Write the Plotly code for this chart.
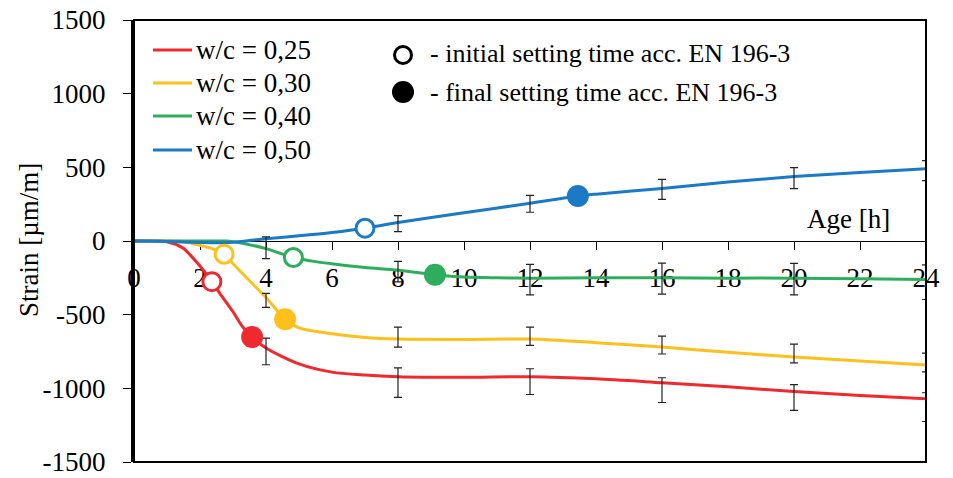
import plotly.graph_objects as go

# ---------------- data ----------------
series_names = ["w/c = 0,25", "w/c = 0,30", "w/c = 0,40", "w/c = 0,50"]
series_colors = ["#EE2A2E", "#FFC01E", "#2EAE5C", "#1B79C6"]

# curve points (age [h], strain [µm/m])
red_x = [0, 1, 1.5, 1.7, 2, 2.36, 2.6, 3, 3.3, 3.58, 4, 5, 6, 7, 8, 10, 12, 14, 16, 18, 20, 22, 24]
red_y = [0, -5, -50, -94, -170, -276, -355, -480, -585, -652, -726, -834, -890, -910, -921, -925, -921, -935, -962, -990, -1022, -1048, -1070]

yel_x = [0, 1, 1.5, 2, 2.4, 2.73, 3, 3.5, 4, 4.58, 5, 6, 7, 8, 10, 12, 14, 16, 18, 20, 22, 24]
yel_y = [0, 0, -5, -30, -55, -90, -155, -270, -383, -531, -590, -630, -655, -666, -668, -665, -690, -720, -755, -787, -815, -841]

grn_x = [0, 1, 2, 2.8, 3, 3.5, 4, 4.83, 5.5, 6, 7, 8, 9.12, 10, 11, 12, 14, 16, 18, 20, 22, 24]
grn_y = [0, 0, 0, 0, -5, -25, -52, -112, -140, -155, -180, -198, -229, -245, -250, -252, -250, -250, -252, -252, -256, -262]

blu_x = [0, 1, 2, 2.5, 3, 3.5, 4, 5, 6, 7, 8, 10, 12, 13.45, 14, 16, 18, 20, 22, 24]
blu_y = [0, -3, -10, -12, -8, 3, 15, 35, 58, 87, 125, 192, 256, 305, 318, 357, 400, 437, 465, 491]

# error bars
red_err_x = [4, 8, 12, 16, 20, 24]
red_err_y = [-726, -921, -921, -962, -1022, -1070]
red_err_plus = [67, 60, 54, 34, 47, 40]
red_err_minus = [114, 141, 121, 134, 128, 155]

yel_err_x = [4, 8, 12, 16, 20, 24]
yel_err_y = [-383, -666, -665, -720, -787, -841]
yel_err_plus = [27, 81, 81, 74, 87, 80]
yel_err_minus = [67, 54, 44, 47, 40, 47]

grn_err_x = [4, 8, 12, 16, 20, 24]
grn_err_y = [-52, -198, -252, -250, -252, -262]
grn_err_plus = [80, 60, 94, 100, 100, 100]
grn_err_minus = [67, 80, 114, 110, 114, 135]

blu_err_x = [8, 12, 16, 20, 24]
blu_err_y = [125, 256, 357, 437, 491]
blu_err_plus = [47, 54, 61, 61, 54]
blu_err_minus = [61, 61, 74, 81, 81]

# setting times (initial, final)
init_x = [2.36, 2.73, 4.83, 7.0]
init_y = [-276, -90, -112, 87]
final_x = [3.58, 4.58, 9.12, 13.45]
final_y = [-652, -531, -229, 305]

x_ticks = list(range(0, 25, 2))
y_ticks = [-1500, -1000, -500, 0, 500, 1000, 1500]

FONT = "Liberation Serif"
FS = 27
FS2 = 26

curves = [(red_x, red_y), (yel_x, yel_y), (grn_x, grn_y), (blu_x, blu_y)]
errs = [
    (red_err_x, red_err_y, red_err_plus, red_err_minus),
    (yel_err_x, yel_err_y, yel_err_plus, yel_err_minus),
    (grn_err_x, grn_err_y, grn_err_plus, grn_err_minus),
    (blu_err_x, blu_err_y, blu_err_plus, blu_err_minus),
]

fig = go.Figure()

for (cx, cy), name, col in zip(curves, series_names, series_colors):
    fig.add_trace(go.Scatter(x=cx, y=cy, mode="lines", name=name,
                             line=dict(color=col, width=3, shape="spline", smoothing=0.8),
                             showlegend=False, hoverinfo="skip"))

for (ex, ey, ep, em), name in zip(errs, series_names):
    fig.add_trace(go.Scatter(x=ex, y=ey, mode="markers", name=name + " error",
                             marker=dict(size=1, color="rgba(0,0,0,0)"),
                             error_y=dict(type="data", symmetric=False, array=ep, arrayminus=em,
                                          color="#222222", thickness=1.2, width=4),
                             showlegend=False, hoverinfo="skip"))

for i, col in enumerate(series_colors):
    fig.add_trace(go.Scatter(x=[init_x[i]], y=[init_y[i]], mode="markers",
                             marker=dict(symbol="circle", size=18, color="white",
                                         line=dict(color=col, width=3)),
                             showlegend=False, hoverinfo="skip"))
    fig.add_trace(go.Scatter(x=[final_x[i]], y=[final_y[i]], mode="markers",
                             marker=dict(symbol="circle", size=22, color=col,
                                         line=dict(width=0)),
                             showlegend=False, hoverinfo="skip"))

# ---------------- layout ----------------
L, R, T, B = 134, 27, 20, 16
W, H = 953, 478
pw, ph = W - L - R, H - T - B

def px2paper_x(px):
    return (px - L) / pw

def px2paper_y(py):
    return (H - B - py) / ph

shapes = [dict(type="rect", xref="paper", yref="paper", x0=0, x1=1, y0=0, y1=1,
               line=dict(color="black", width=2), layer="above")]
annotations = []

# custom legend: line samples
leg_y = [50, 83, 116, 150]
for name, col, yy in zip(series_names, series_colors, leg_y):
    shapes.append(dict(type="line", xref="paper", yref="paper",
                       x0=px2paper_x(153), x1=px2paper_x(192),
                       y0=px2paper_y(yy), y1=px2paper_y(yy),
                       line=dict(color=col, width=3)))
    annotations.append(dict(xref="paper", yref="paper", x=px2paper_x(194), y=px2paper_y(yy),
                            xanchor="left", yanchor="middle", showarrow=False, text=name,
                            font=dict(family=FONT, size=FS, color="black")))

# marker legend
shapes.append(dict(type="circle", xref="paper", yref="paper", xsizemode="pixel", ysizemode="pixel",
                   xanchor=px2paper_x(403), yanchor=px2paper_y(55), x0=-8.5, x1=8.5, y0=-8.5, y1=8.5,
                   line=dict(color="black", width=3), fillcolor="white"))
shapes.append(dict(type="circle", xref="paper", yref="paper", xsizemode="pixel", ysizemode="pixel",
                   xanchor=px2paper_x(403), yanchor=px2paper_y(92), x0=-11, x1=11, y0=-11, y1=11,
                   line=dict(color="black", width=0), fillcolor="black"))
annotations.append(dict(xref="paper", yref="paper", x=px2paper_x(428), y=px2paper_y(54),
                        xanchor="left", yanchor="middle", showarrow=False,
                        text="- initial setting time acc. EN 196-3",
                        font=dict(family=FONT, size=FS2, color="black")))
annotations.append(dict(xref="paper", yref="paper", x=px2paper_x(428), y=px2paper_y(93),
                        xanchor="left", yanchor="middle", showarrow=False,
                        text="- final setting time acc. EN 196-3",
                        font=dict(family=FONT, size=FS2, color="black")))
# x-axis title near the axis
annotations.append(dict(xref="paper", yref="paper", x=px2paper_x(848), y=px2paper_y(219),
                        xanchor="center", yanchor="middle", showarrow=False, text="Age [h]",
                        font=dict(family=FONT, size=FS, color="black")))
# y-axis title
annotations.append(dict(xref="paper", yref="paper", x=px2paper_x(29), y=px2paper_y(240),
                        xanchor="center", yanchor="middle", showarrow=False, textangle=-90,
                        text="Strain [µm/m]",
                        font=dict(family=FONT, size=FS, color="black")))

fig.update_layout(
    width=W, height=H,
    margin=dict(l=L, r=R, t=T, b=B, autoexpand=False),
    paper_bgcolor="white", plot_bgcolor="white",
    font=dict(family=FONT, size=FS, color="black"),
    showlegend=False,
    shapes=shapes, annotations=annotations,
    xaxis=dict(range=[0, 24], tickvals=x_ticks, ticktext=[str(v) for v in x_ticks],
               anchor="free", position=0.5, side="bottom", automargin=False,
               showline=True, linecolor="black", linewidth=1,
               ticks="outside", ticklen=8, tickcolor="black", tickwidth=1,
               ticklabelstandoff=5, ticklabeloverflow="allow",
               showgrid=False, zeroline=False, layer="below traces",
               tickfont=dict(family=FONT, size=FS, color="black")),
    yaxis=dict(range=[-1500, 1500], tickvals=y_ticks, ticktext=[str(v) for v in y_ticks],
               domain=[0, 1], automargin=False,
               showline=True, linecolor="black", linewidth=3,
               ticks="outside", ticklen=8, tickcolor="black", tickwidth=1,
               ticklabelstandoff=12, ticklabeloverflow="allow",
               showgrid=False, zeroline=False,
               tickfont=dict(family=FONT, size=FS, color="black")),
)

fig.write_html("out.html")
